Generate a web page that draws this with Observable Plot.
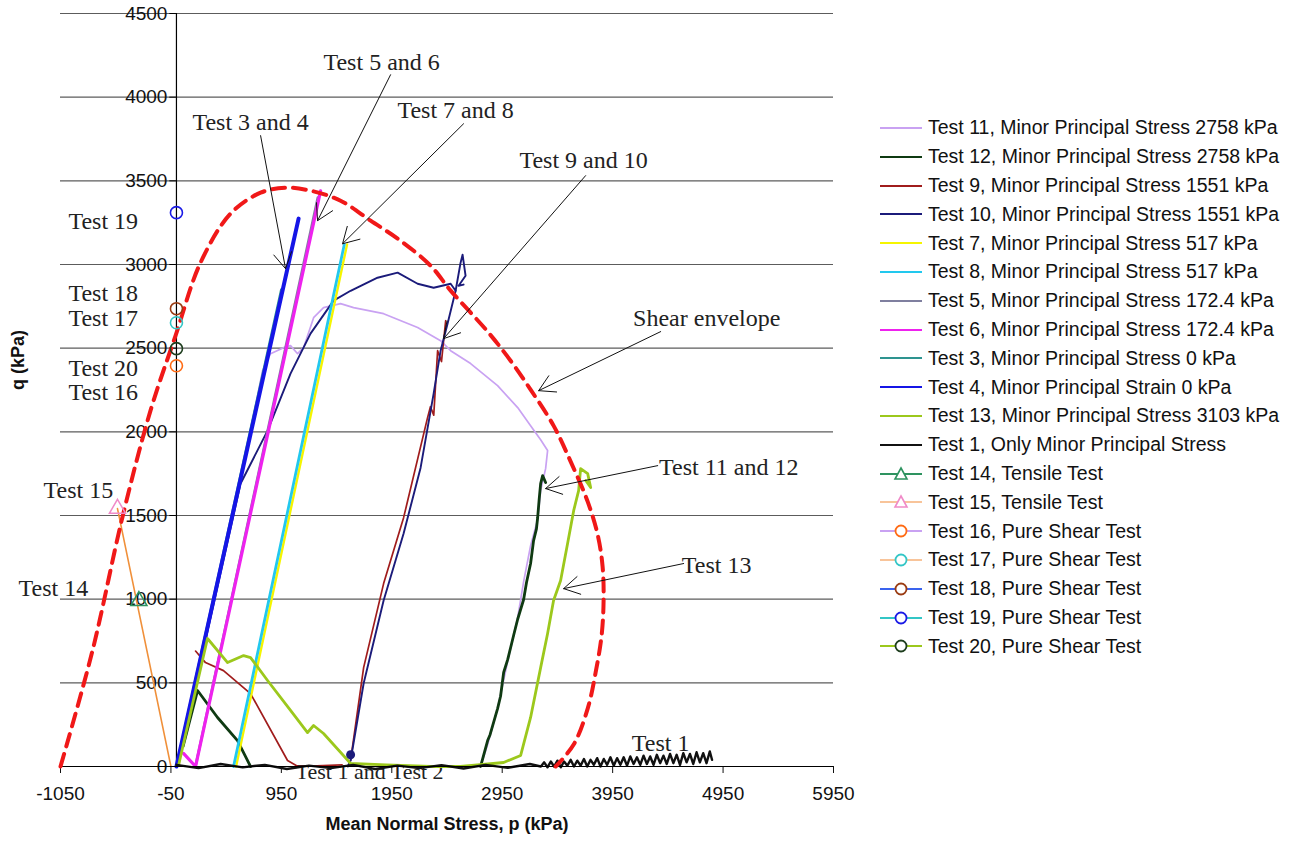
<!DOCTYPE html>
<html><head><meta charset="utf-8">
<script src="https://cdn.jsdelivr.net/npm/d3@7"></script>
<script src="https://cdn.jsdelivr.net/npm/@observablehq/plot@0.6"></script>
<style>
body{margin:0;background:#fff;}
#wrap{position:relative;width:1296px;height:844px;overflow:hidden;}
#legend{position:absolute;left:878px;top:113.6px;font-family:"Liberation Sans",Arial,sans-serif;font-size:19.5px;color:#111;}
.row{height:28.8px;display:flex;align-items:center;white-space:nowrap;}
.row svg{margin-right:4px;flex:none;}
</style></head><body><div id="wrap"><div id="legend"></div></div>
<script>
// ---------- axes ----------
const xTicks = [-1050, -50, 950, 1950, 2950, 3950, 4950, 5950];
const yTicks = [0, 500, 1000, 1500, 2000, 2500, 3000, 3500, 4000, 4500];
const xTitle = "Mean Normal Stress, p (kPa)";
const yTitle = "q (kPa)";

// ---------- shear envelope (p, q) ----------
const envelope = [[-1050,0],[-760,693],[-488,1493],[-235,2127],[-8,2575],[218,3011],[490,3304],[762,3429],[988,3459],[1215,3441],[1486,3381],[1758,3262],[2030,3142],[2301,2993],[2483,2844],[2818,2599],[3026,2425],[3207,2252],[3415,2037],[3570,1822],[3724,1583],[3814,1386],[3859,1195],[3868,992],[3850,783],[3796,562],[3724,346],[3597,131],[3434,0]];

// ---------- test series (p, q) ----------
const test11 = [[2754,0],[2818,131],[2908,346],[2999,627],[3090,890],[3144,1105],[3207,1320],[3271,1476],[3298,1649],[3343,1780],[3361,1888],[3298,1953],[3207,2037],[3090,2145],[2908,2276],[2664,2408],[2483,2485],[2392,2545],[2184,2623],[1876,2706],[1604,2742],[1486,2766],[1332,2742],[1242,2682],[1151,2503],[1097,2467],[1033,2515],[970,2503],[852,2467],[780,2366],[580,1709],[309,890],[19,36]];
const test12a = [[2754,0],[2818,155],[2840,190],[2908,346],[2935,420],[2963,562],[3000,640],[3053,783],[3090,880],[3144,998],[3170,1100],[3207,1213],[3234,1350],[3260,1420],[3271,1488],[3285,1600],[3298,1691],[3316,1738],[3343,1697]];
const test12b = [[60,120],[191,454],[372,293],[553,155],[671,0]];
const test9a = [[1577,36],[1695,591],[1876,1093],[2057,1487],[2274,2085],[2300,2150],[2330,2100],[2365,2485],[2400,2420],[2438,2664]];
const test9b = [[173,690],[263,621],[426,573],[671,436],[1006,36],[1100,0],[1500,10]];
const test10a = [[1551,0],[1577,36],[1695,496],[1876,992],[2057,1392],[2211,1786],[2329,2228],[2392,2485],[2455,2646],[2528,2843],[2573,3011],[2591,3059],[2618,2933],[2555,2873],[2600,2880]];
const test10b = [[19,36],[580,1690],[825,2007],[1033,2348],[1214,2587],[1423,2784],[1577,2843],[1821,2921],[2003,2951],[2184,2885],[2329,2861],[2483,2885],[2528,2843]];
const test7 = [[540,0],[1545,3120]];
const test8 = [[517,0],[1520,3120]];
const test5 = [[172,0],[1280,3400]];
const test6 = [[64,78],[173,0],[1305,3440]];
const test3 = [[0,0],[950,2850]];
const test4 = [[0,0],[1106,3274]];
const test13 = [[19,6],[128,323],[281,765],[463,621],[608,663],[671,651],[825,514],[1033,335],[1187,203],[1242,245],[1332,197],[1577,18],[1900,10],[2300,0],[2573,0],[2963,24],[3117,66],[3207,293],[3298,591],[3361,795],[3415,992],[3479,1111],[3542,1332],[3597,1529],[3642,1649],[3660,1780],[3724,1750],[3751,1667],[3706,1709]];
const test1 = [[0,10],[200,-10],[400,15],[600,-5],[800,10],[1000,-15],[1200,5],[1400,-10],[1600,10],[1800,-15],[2000,5],[2200,-10],[2400,8],[2600,-12],[2800,10],[3000,-8],[3200,15],[3300,0],[3330,25],[3360,-5],[3390,30],[3420,0],[3450,35],[3480,-5],[3510,30],[3540,5],[3570,40],[3600,0],[3630,35],[3660,5],[3690,45],[3720,0],[3750,40],[3780,10],[3810,50],[3840,0],[3870,45],[3900,10],[3930,55],[3960,5],[3990,50],[4020,10],[4050,55],[4080,5],[4110,60],[4140,15],[4170,55],[4200,10],[4230,65],[4260,15],[4290,60],[4320,10],[4350,70],[4380,20],[4410,65],[4440,15],[4470,75],[4500,20],[4530,70],[4560,10],[4590,80],[4620,25],[4650,75],[4680,15],[4710,85],[4740,25],[4770,80],[4800,20],[4830,90],[4850,40]];
const test14 = [[-340,990]];
const test15 = [[-534,1541],[-50,0]];
const test10Start = [[1577,70]];

// pure shear tests at p = 0
const shearNames = ["Test 16","Test 17","Test 18","Test 19","Test 20"];
const shearQ = [2395, 2652, 2736, 3310, 2497];
const shearColors = ["#ff6a13","#33c6c6","#9a3b12","#1a1ae6","#1d3d1d"];

// ---------- annotations ----------
const sideLabels = ["Test 19","Test 18","Test 17","Test 20","Test 16","Test 15","Test 14"];
const sideP = [-978,-978,-978,-978,-978,-1204,-1430];
const sideQ = [3256,2826,2676,2378,2234,1649,1063];
const noteLabels = ["Test 3 and 4","Test 5 and 6","Test 7 and 8","Test 9 and 10","Shear envelope","Test 11 and 12","Test 13","Test 1"];
const noteP = [671,1858,2528,3687,4802,5001,4892,4385];
const noteQ = [3847,4206,3919,3620,2676,1786,1201,137];
const underLabel = ["Test 1 and Test 2"];
const underP = [1749], underQ = [-30];
const arrowFrom = [[762,3770],[1939,4134],[2600,3841],[3705,3531],[4385,2599],[4358,1798],[4593,1213]];
const arrowTo   = [[988,2975],[1278,3262],[1504,3124],[2419,2557],[3280,2246],[3343,1661],[3506,1063]];

// ---------- legend ----------
const legendNames = ["Test 11, Minor Principal Stress 2758 kPa","Test 12, Minor Principal Stress 2758 kPa","Test 9, Minor Principal Stress 1551 kPa","Test 10, Minor Principal Stress 1551 kPa","Test 7, Minor Principal Stress 517 kPa","Test 8, Minor Principal Stress 517 kPa","Test 5, Minor Principal Stress 172.4 kPa","Test 6, Minor Principal Stress 172.4 kPa","Test 3, Minor Principal Stress 0 kPa","Test 4, Minor Principal Strain 0 kPa","Test 13, Minor Principal Stress 3103 kPa","Test 1, Only Minor Principal Stress","Test 14, Tensile Test","Test 15, Tensile Test","Test 16, Pure Shear Test","Test 17, Pure Shear Test","Test 18, Pure Shear Test","Test 19, Pure Shear Test","Test 20, Pure Shear Test"];
const legendLine = ["#c9a2f2","#0f3a12","#a01c1c","#1b1b7a","#f5f500","#22c8ee","#7f7f9f","#ee22ee","#2e9490","#1515e6","#9cc81c","#111111","#2e9360","#f8c49a","#c9a2f2","#f8c49a","#3a63ee","#33c6c6","#9cc81c"];
const legendMarker = [null,null,null,null,null,null,null,null,null,null,null,null,"tri","tri","circ","circ","circ","circ","circ"];
const legendMarkerColor = [null,null,null,null,null,null,null,null,null,null,null,null,"#2e9360","#f08ac8","#ff6a13","#33c6c6","#9a3b12","#1a1ae6","#1d3d1d"];

// ---------- build ----------
const series = [
  {segs:[test11], color:legendLine[0], w:1.7},
  {segs:[test12a,test12b], color:legendLine[1], w:2.8},
  {segs:[test9a,test9b], color:legendLine[2], w:1.7},
  {segs:[test10a,test10b], color:legendLine[3], w:1.9},
  {segs:[test7], color:legendLine[4], w:2.4},
  {segs:[test8], color:legendLine[5], w:2.8},
  {segs:[test5], color:legendLine[6], w:2.6},
  {segs:[test6], color:legendLine[7], w:3.2},
  {segs:[test3], color:legendLine[8], w:2.6},
  {segs:[test4], color:legendLine[9], w:4},
  {segs:[test13], color:legendLine[10], w:2.8},
  {segs:[test1], color:legendLine[11], w:2.4}
];
const serif = "Liberation Serif, Times New Roman, serif";
const lineMarks = series.map((s, si) => {
  const rows = s.segs.flatMap((seg, i) => seg.map(([p, q]) => ({p, q, z: si + "-" + i})));
  return Plot.line(rows, {x: "p", y: "q", z: "z", stroke: s.color, strokeWidth: s.w, strokeLinejoin: "round"});
});
const shearRows = shearNames.map((n, i) => ({p: 0, q: shearQ[i], c: shearColors[i]}));
const sideRows = sideLabels.map((t, i) => ({t, p: sideP[i], q: sideQ[i]}));
const noteRows = noteLabels.map((t, i) => ({t, p: noteP[i], q: noteQ[i]}));
const arrowRows = arrowFrom.map((a, i) => ({x1: a[0], y1: a[1], x2: arrowTo[i][0], y2: arrowTo[i][1]}));
const envRows = envelope.map(([p, q]) => ({p, q}));

const chart = Plot.plot({
  width: 1296, height: 844,
  marginLeft: 60, marginRight: 463, marginTop: 13, marginBottom: 78,
  x: {domain: [xTicks[0], xTicks[xTicks.length - 1]], axis: null},
  y: {domain: [yTicks[0], yTicks[yTicks.length - 1]], axis: null},
  style: {fontFamily: "Liberation Sans, Arial, sans-serif", background: "white", overflow: "visible"},
  marks: [
    Plot.ruleY(yTicks.slice(1), {x1: xTicks[0], x2: xTicks[xTicks.length - 1], stroke: "#5c5c5c", strokeWidth: 1.2}),
    Plot.ruleY(yTicks, {x1: -60, x2: 0, stroke: "#000"}),
    Plot.text(yTicks, {x: 0, y: d => d, dx: -9, textAnchor: "end", text: d => String(d), fontSize: 19, fill: "#111"}),
    Plot.axisX({ticks: xTicks, tickFormat: d => String(d), tickSize: 7, tickPadding: 13, fontSize: 19, anchor: "bottom", color: "#111"}),
    Plot.ruleX([0], {y1: yTicks[0], y2: yTicks[yTicks.length - 1], stroke: "#000", strokeWidth: 1.2}),
    Plot.text([xTitle], {frameAnchor: "bottom", dy: 63, fontSize: 18, fontWeight: "bold", fill: "#111"}),
    Plot.text([yTitle], {frameAnchor: "left", dx: -42, rotate: -90, fontSize: 18, fontWeight: "bold", fill: "#111"}),
    Plot.text(underLabel.map((t, i) => ({t, p: underP[i], q: underQ[i]})), {x: "p", y: "q", text: "t", fontFamily: serif, fontSize: 22, fill: "#222"}),
    ...lineMarks,
    Plot.dot(test10Start.map(([p, q]) => ({p, q})), {x: "p", y: "q", r: 4.5, fill: legendLine[3]}),
    Plot.line(test15.map(([p, q]) => ({p, q})), {x: "p", y: "q", stroke: "#f0903a", strokeWidth: 1.6}),
    Plot.ruleY([0], {x1: xTicks[0], x2: xTicks[xTicks.length - 1], stroke: "#000", strokeWidth: 1.2}),
    Plot.line(envRows, {x: "p", y: "q", stroke: "#f01818", strokeWidth: 4, strokeDasharray: "13,8", curve: "catmull-rom"}),
    Plot.dot(test14.map(([p, q]) => ({p, q})), {x: "p", y: "q", symbol: "triangle", r: 6, stroke: "#2e9360", strokeWidth: 1.5, fill: "none"}),
    Plot.dot(test15.slice(0, 1).map(([p, q]) => ({p, q})), {x: "p", y: "q", symbol: "triangle", r: 6, stroke: "#f08ac8", strokeWidth: 1.5, fill: "none"}),
    Plot.dot(shearRows, {x: "p", y: "q", r: 6, stroke: "c", strokeWidth: 1.6, fill: "none"}),
    Plot.arrow(arrowRows, {x1: "x1", y1: "y1", x2: "x2", y2: "y2", stroke: "#111", strokeWidth: 1, headLength: 27, headAngle: 60}),
    Plot.text(sideRows, {x: "p", y: "q", text: "t", textAnchor: "start", fontFamily: serif, fontSize: 24, fill: "#222"}),
    Plot.text(noteRows, {x: "p", y: "q", text: "t", fontFamily: serif, fontSize: 24, fill: "#222"})
  ]
});
document.getElementById("wrap").prepend(chart);

// legend
const lg = document.getElementById("legend");
legendNames.forEach((name, i) => {
  const row = document.createElement("div");
  row.className = "row";
  let mk = "";
  if (legendMarker[i] === "circ") mk = `<circle cx="23" cy="8" r="5.5" fill="white" stroke="${legendMarkerColor[i]}" stroke-width="1.8"/>`;
  if (legendMarker[i] === "tri") mk = `<path d="M23,2 L29,13 L17,13 Z" fill="white" stroke="${legendMarkerColor[i]}" stroke-width="1.6"/>`;
  row.innerHTML = `<svg width="46" height="16"><line x1="2" y1="8" x2="44" y2="8" stroke="${legendLine[i]}" stroke-width="2"/>${mk}</svg><span>${name}</span>`;
  lg.appendChild(row);
});
</script></body></html>
